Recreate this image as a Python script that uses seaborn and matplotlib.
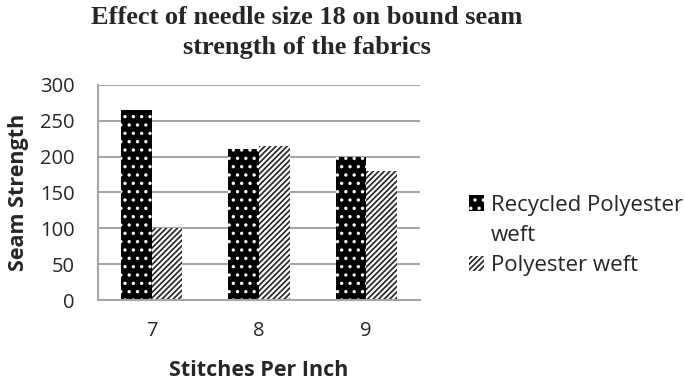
import pandas as pd
import matplotlib
matplotlib.use('Agg')
import matplotlib.pyplot as plt
from matplotlib.patches import Patch
import seaborn as sns

# 데이터
spi = ['7', '8', '9']
recycled = [265, 210, 200]
polyester = [100, 215, 180]
series_names = ['Recycled Polyester weft', 'Polyester weft']

df = pd.DataFrame({
    'spi': spi * 2,
    'strength': recycled + polyester,
    'fabric': [series_names[0]] * 3 + [series_names[1]] * 3,
})

sns.set_style('white')
plt.rcParams['font.family'] = ['Open Sans', 'DejaVu Sans']
plt.rcParams['hatch.linewidth'] = 1.2

fig = plt.figure(figsize=(6.85, 3.83), dpi=100)
ax = fig.add_axes([0.143, 0.2167, 0.470, 0.5614])

sns.barplot(data=df, x='spi', y='strength', hue='fabric', palette=['black', 'white'],
            width=0.57, ax=ax, legend=False, saturation=1)

# 패턴
for p in ax.containers[0]:
    p.set_facecolor('black')
    p.set_edgecolor('white')
    p.set_hatch('..')
    p.set_linewidth(0)
for p in ax.containers[1]:
    p.set_facecolor('white')
    p.set_edgecolor('#222222')
    p.set_hatch('//////')
    p.set_linewidth(0)

ax.set_ylim(0, 300)
ax.set_yticks(range(0, 301, 50))
ax.set_xlim(-0.5, 2.5)
ax.yaxis.grid(True, color='#a6a6a6', linewidth=1.5)
ax.set_axisbelow(True)
for s in ['top', 'right']:
    ax.spines[s].set_visible(False)
for s in ['left', 'bottom']:
    ax.spines[s].set_color('#a6a6a6')
    ax.spines[s].set_linewidth(1.5)

ax.tick_params(axis='y', length=7, color='#a6a6a6', width=1.5, labelsize=14.5, pad=10)
ax.tick_params(axis='x', which='major', length=0, labelsize=14.5, pad=15)
ax.set_xticks([-0.5, 0.5, 1.5, 2.5], minor=True)
ax.tick_params(axis='x', which='minor', length=7, color='#a6a6a6', width=1.5)

ax.set_xlabel('Stitches Per Inch', fontsize=15.5, fontweight='bold', labelpad=14)
ax.set_ylabel('Seam Strength', fontsize=15.5, fontweight='bold', labelpad=8)

fig.text(0.448, 0.985, 'Effect of needle size 18 on bound seam\nstrength of the fabrics',
         ha='center', va='top', family='Liberation Serif', fontweight='bold',
         fontsize=19, linespacing=1.4)

# 범례: 첫 항목은 두 줄로 (마커는 첫 줄에)
handles = [ax.containers[0], Patch(visible=False), ax.containers[1]]
labels = ['Recycled Polyester', 'weft', 'Polyester weft']
leg = ax.legend(handles, labels, loc='center left', bbox_to_anchor=(1.152, 0.30),
                frameon=False, fontsize=16, handlelength=0.7, handleheight=0.7,
                handletextpad=0.3, labelspacing=0.42, borderaxespad=0, borderpad=0)

fig.savefig('out.png', dpi=100)
